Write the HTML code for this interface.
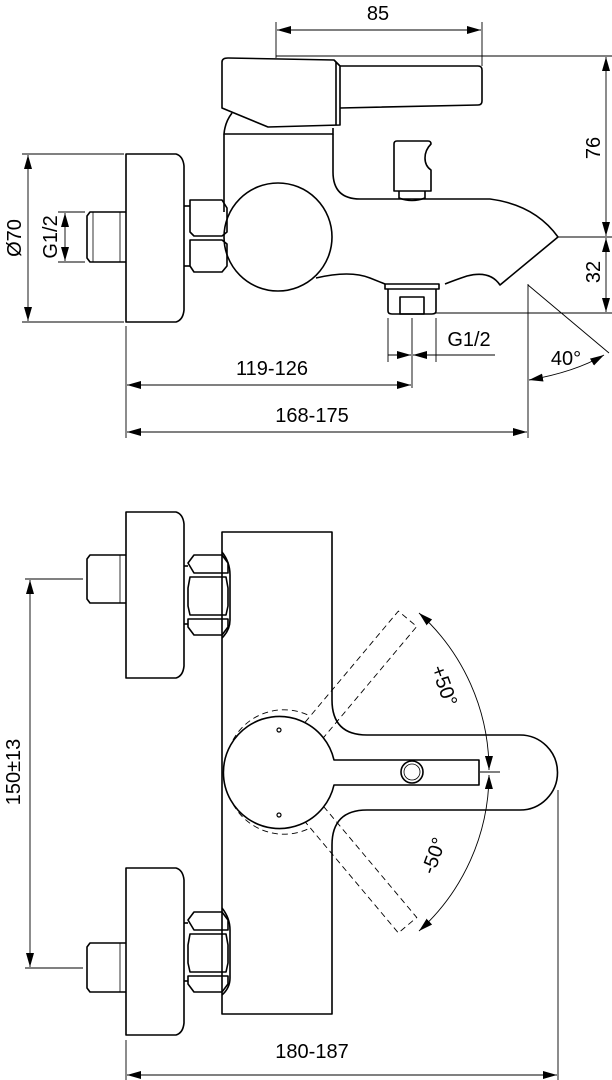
<!DOCTYPE html>
<html><head><meta charset="utf-8"><style>
html,body{margin:0;padding:0;background:#fff;}
svg{display:block;}
text{font-family:"Liberation Sans",Arial,sans-serif;font-size:20px;fill:#000;}
</style></head><body>
<svg width="612" height="1080" viewBox="0 0 612 1080" xmlns="http://www.w3.org/2000/svg">
<defs>
<marker id="a" markerWidth="14" markerHeight="8" refX="14" refY="4" orient="auto-start-reverse" markerUnits="userSpaceOnUse">
<path d="M0,0 L14,4 L0,8 Z" fill="#000"/></marker>
</defs>
<g fill="none" stroke="#000" stroke-width="1.6" stroke-linejoin="round">
<!-- ===== TOP VIEW ===== -->
<path d="M222,62 Q222,58 228,58 L334,60 L340,66 L340,125 L268,127 L222,108 Z"/>
<path d="M340,66 L478,66 Q482,66 482,70 L482,101 Q482,105 478,105 L340,108"/>
<line x1="336" y1="62" x2="336" y2="125"/>
<path d="M232,113 Q225,122 224,134 L333,134 L333,128"/>
<path d="M224,134 L224,212"/>
<path d="M333,134 L333,172 Q333,199 360,199 L490,199 Q535,205 558,237 L500,285 Q490,270 467,276 Q455,280 445,284"/>
<path d="M385,284 Q375,280 370,278 Q350,270 316,278"/>
<rect x="385" y="284" width="54" height="5"/>
<path d="M388,289 L388,311 Q388,314 392,314 L432,314 Q436,314 436,311 L436,289"/>
<rect x="400" y="297" width="24" height="17"/>
<path d="M394,144 Q394,141 397,141 L428,141 Q431,141 431,144 Q425,150 425,158 Q425,166 431,170 L431,191 L394,191 Z"/>
<path d="M399,191 L399,198 Q412,203 425,198 L425,191"/>
<circle cx="278" cy="237" r="54" fill="#fff"/>
<path d="M126,154 L176,154 Q183,156 184,166 L184,310 Q183,320 176,322 L126,322 Z"/>
<path d="M190,200 L222,200 L227,208 L227,232 L222,236 L194,236 L190,232 Z"/>
<path d="M190,240 L222,240 L227,244 L227,266 L222,272 L194,272 L190,266 Z"/>
<line x1="184" y1="206" x2="190" y2="206"/><line x1="184" y1="266" x2="190" y2="266"/>
<path d="M126,212 L90,212 L87,216 L87,258 L90,262 L126,262"/>
<line x1="93" y1="212" x2="93" y2="262" stroke-width="0.8"/>
<line x1="120" y1="212" x2="120" y2="262" stroke-width="0.8"/>
</g>
<g fill="none" stroke="#000" stroke-width="0.9">
<line x1="276" y1="22" x2="276" y2="58"/><line x1="482" y1="22" x2="482" y2="66"/>
<line x1="277" y1="30" x2="481" y2="30" marker-start="url(#a)" marker-end="url(#a)"/>
<line x1="276" y1="56" x2="612" y2="56"/>
<line x1="606" y1="57" x2="606" y2="236" marker-start="url(#a)" marker-end="url(#a)"/>
<line x1="606" y1="238" x2="606" y2="312" marker-start="url(#a)" marker-end="url(#a)"/>
<line x1="558" y1="237" x2="612" y2="237"/>
<line x1="436" y1="313" x2="612" y2="313"/>
<line x1="22" y1="154" x2="124" y2="154"/><line x1="22" y1="322" x2="124" y2="322"/>
<line x1="28" y1="155" x2="28" y2="321" marker-start="url(#a)" marker-end="url(#a)"/>
<line x1="58" y1="212" x2="85" y2="212"/><line x1="58" y1="262" x2="85" y2="262"/>
<line x1="65" y1="213" x2="65" y2="261" marker-start="url(#a)" marker-end="url(#a)"/>
<line x1="388" y1="318" x2="388" y2="362"/><line x1="412" y1="318" x2="412" y2="388"/><line x1="436" y1="318" x2="436" y2="362"/>
<line x1="388" y1="355" x2="411" y2="355" marker-end="url(#a)"/>
<line x1="436" y1="355" x2="495" y2="355"/>
<line x1="436" y1="355" x2="413" y2="355" marker-end="url(#a)"/>
<line x1="126" y1="326" x2="126" y2="438"/>
<line x1="127" y1="385" x2="411" y2="385" marker-start="url(#a)" marker-end="url(#a)"/>
<line x1="528" y1="284" x2="528" y2="438"/>
<line x1="127" y1="432" x2="527" y2="432" marker-start="url(#a)" marker-end="url(#a)"/>
<line x1="528" y1="285" x2="609" y2="353"/>
<path d="M529,380 Q575,372 604,355" marker-start="url(#a)" marker-end="url(#a)"/>
</g>
<text x="378" y="20" text-anchor="middle">85</text>
<text transform="translate(600,148) rotate(-90)" text-anchor="middle">76</text>
<text transform="translate(600,272) rotate(-90)" text-anchor="middle">32</text>
<text transform="translate(21,238) rotate(-90)" text-anchor="middle">Ø70</text>
<text transform="translate(57,237) rotate(-90)" text-anchor="middle">G1/2</text>
<text x="469" y="346" text-anchor="middle">G1/2</text>
<text x="272" y="375" text-anchor="middle">119-126</text>
<text x="312" y="422" text-anchor="middle">168-175</text>
<text x="566" y="365" text-anchor="middle">40°</text>

<!-- ===== BOTTOM VIEW ===== -->
<g fill="none" stroke="#000" stroke-width="1.6" stroke-linejoin="round">
<path d="M126,512 L176,512 Q183,514 184,524 L184,666 Q183,676 176,678 L126,678 Z"/>
<path d="M126,868 L176,868 Q183,870 184,880 L184,1023 Q183,1033 176,1035 L126,1035 Z"/>
<path d="M222,532 L332,532 L332,700 Q332,735 367,735 L520,735 A37.5,37.5 0 0 1 520,810 L367,810 Q332,810 332,845 L332,1014 L222,1014 Z"/>
<path d="M222,552 Q230,562 230,575 L230,620 Q230,630 222,638"/>
<path d="M222,908 Q230,918 230,930 L230,978 Q230,988 222,995"/>
<path d="M194,555 L222,555 L228,563 L228,573 L194,573 L188,563 Z"/>
<path d="M190,577 L226,577 L228,588 L228,606 L226,615 L190,615 L188,606 L188,588 Z"/>
<path d="M188,619 L228,619 L228,627 L222,635 L194,635 L188,627 Z"/>
<path d="M194,912 L222,912 L228,920 L228,930 L194,930 L188,920 Z"/>
<path d="M190,934 L226,934 L228,945 L228,963 L226,972 L190,972 L188,963 L188,945 Z"/>
<path d="M188,976 L228,976 L228,984 L222,992 L194,992 L188,984 Z"/>
<line x1="184" y1="566" x2="188" y2="566"/><line x1="184" y1="624" x2="188" y2="624"/>
<line x1="184" y1="923" x2="188" y2="923"/><line x1="184" y1="981" x2="188" y2="981"/>
<path d="M126,555 L90,555 L87,559 L87,599 L90,603 L126,603"/>
<path d="M126,943 L90,943 L87,947 L87,988 L90,992 L126,992"/>
<line x1="120" y1="555" x2="120" y2="603" stroke-width="0.8"/>
<line x1="120" y1="943" x2="120" y2="992" stroke-width="0.8"/>
</g>
<g fill="none" stroke="#000" stroke-width="0.9" stroke-dasharray="6,4">
<g transform="rotate(-50 279 772)"><path d="M334,760 L479,760 L479,784 L334,784"/></g>
<g transform="rotate(50 279 772)"><path d="M334,760 L479,760 L479,784 L334,784"/></g>
<path d="M233,740 A58,58 0 0 1 310,716"/>
<path d="M233,804 A58,58 0 0 0 310,828"/>
</g>
<g fill="none" stroke="#000" stroke-width="1.6" stroke-linejoin="round">
<path d="M334,760 Q336,760 340,760 L479,760 L479,785 L340,785 Q336,785 334,785 A56,56 0 1 1 334,760 Z" fill="#fff"/>
<circle cx="412" cy="772" r="11" fill="#fff"/>
<circle cx="412" cy="772" r="8" stroke-width="0.8"/>
</g>
<circle cx="279" cy="730" r="2" fill="none" stroke="#000" stroke-width="1.2"/>
<circle cx="279" cy="815" r="2" fill="none" stroke="#000" stroke-width="1.2"/>
<g fill="none" stroke="#000" stroke-width="0.9">
<path d="M419,613 A212,212 0 0 1 489,770" marker-start="url(#a)" marker-end="url(#a)"/>
<path d="M489,775 A212,212 0 0 1 419,931" marker-start="url(#a)" marker-end="url(#a)"/>
<line x1="480" y1="772" x2="500" y2="772"/>
<line x1="25" y1="579" x2="83" y2="579"/><line x1="25" y1="968" x2="83" y2="968"/>
<line x1="30" y1="580" x2="30" y2="967" marker-start="url(#a)" marker-end="url(#a)"/>
<line x1="126" y1="1040" x2="126" y2="1080"/>
<line x1="558" y1="790" x2="558" y2="1080"/>
<line x1="127" y1="1075" x2="557" y2="1075" marker-start="url(#a)" marker-end="url(#a)"/>
</g>
<text transform="translate(438,688) rotate(70)" text-anchor="middle">+50°</text>
<text transform="translate(440,858) rotate(-70)" text-anchor="middle">-50°</text>
<text transform="translate(20,772) rotate(-90)" text-anchor="middle">150±13</text>
<text x="312" y="1058" text-anchor="middle">180-187</text>
</svg>
</body></html>
